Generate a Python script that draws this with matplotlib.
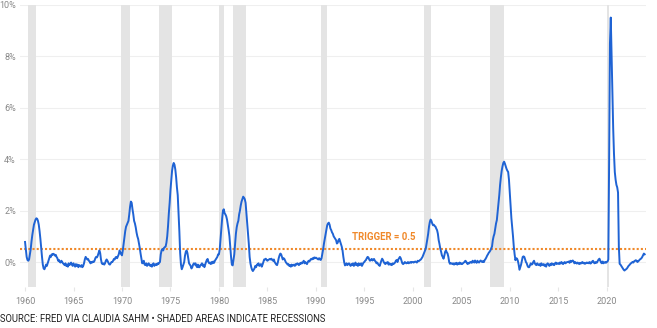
import matplotlib
matplotlib.use("Agg")
import matplotlib.pyplot as plt
import numpy as np

plt.rcParams['font.family'] = ['Roboto', 'DejaVu Sans']

# Sahm rule indicator, monthly values (percentage points), Jan 1960 - Dec 2023
start_year = 1960
sahm = [
    # 1960
    0.78, 0.5, 0.2, 0.08, 0.05, 0.1, 0.3, 0.5, 0.8, 1.05, 1.25, 1.45,
    # 1961
    1.55, 1.65, 1.7, 1.68, 1.6, 1.45, 1.2, 0.9, 0.55, 0.2, -0.1, -0.25,
    # 1962
    -0.28, -0.2, -0.1, -0.15, -0.05, 0.05, 0.15, 0.25, 0.2, 0.3, 0.28, 0.32,
    # 1963
    0.3, 0.25, 0.28, 0.2, 0.15, 0.05, 0.08, 0.0, -0.02, 0.05, 0.0, -0.05,
    # 1964
    -0.08, -0.12, -0.05, -0.15, -0.1, -0.18, -0.05, -0.12, -0.08, -0.02, -0.1, -0.15,
    # 1965
    -0.05, -0.12, -0.18, -0.08, -0.15, -0.1, -0.2, -0.12, -0.15, -0.18, -0.12, -0.2,
    # 1966
    -0.15, -0.05, 0.1, 0.2, 0.15, 0.1, 0.12, 0.05, 0.02, -0.05, 0.0, -0.02,
    # 1967
    0.02, 0.0, 0.05, 0.15, 0.2, 0.18, 0.25, 0.35, 0.45, 0.35, 0.1, -0.05,
    # 1968
    -0.08, -0.05, -0.1, -0.05, 0.05, 0.1, 0.05, -0.02, -0.08, -0.1, -0.05, 0.0,
    # 1969
    0.0, 0.05, 0.12, 0.1, 0.18, 0.2, 0.15, 0.22, 0.3, 0.45, 0.38, 0.3,
    # 1970
    0.26, 0.45, 0.7, 0.95, 1.2, 1.37, 1.45, 1.52, 1.6, 1.85, 2.15, 2.35,
    # 1971
    2.3, 2.05, 1.85, 1.6, 1.5, 1.35, 1.15, 1.0, 0.9, 0.72, 0.55, 0.33,
    # 1972
    0.15, -0.05, -0.02, 0.05, -0.1, -0.12, -0.05, -0.15, -0.1, -0.05, -0.12, -0.15,
    # 1973
    -0.1, -0.18, -0.1, -0.05, -0.15, -0.1, -0.08, -0.12, -0.05, -0.08, -0.03, 0.0,
    # 1974
    0.3, 0.45, 0.5, 0.45, 0.55, 0.58, 0.6, 0.75, 1.0, 1.4, 1.9, 2.3,
    # 1975
    2.8, 3.2, 3.55, 3.75, 3.85, 3.78, 3.6, 3.3, 2.9, 2.6, 1.9, 1.2,
    # 1976
    0.35, -0.1, -0.28, -0.2, -0.1, 0.0, 0.25, 0.4, 0.45, 0.35, 0.15, -0.05,
    # 1977
    -0.1, -0.15, -0.25, -0.2, -0.1, -0.05, -0.1, -0.05, -0.15, -0.2, -0.1, -0.2,
    # 1978
    -0.2, -0.12, -0.1, -0.05, -0.15, -0.1, -0.2, -0.1, 0.0, 0.08, 0.12, 0.0,
    # 1979
    -0.05, -0.02, -0.08, 0.0, -0.05, 0.02, -0.03, 0.05, 0.1, 0.15, 0.2, 0.3,
    # 1980
    0.3, 0.5, 0.9, 1.3, 1.7, 2.0, 2.05, 1.9, 1.85, 1.78, 1.65, 1.45,
    # 1981
    1.24, 1.0, 0.6, 0.2, -0.1, -0.13, 0.1, 0.3, 0.7, 1.1, 1.35, 1.5,
    # 1982
    1.6, 1.85, 2.0, 2.2, 2.35, 2.45, 2.54, 2.5, 2.44, 2.3, 1.9, 1.5,
    # 1983
    1.1, 0.7, 0.2, -0.05, -0.2, -0.3, -0.35, -0.3, -0.25, -0.15, -0.2, -0.1,
    # 1984
    -0.1, -0.05, -0.15, -0.12, -0.08, -0.18, -0.1, 0.0, 0.1, 0.1, 0.13, 0.08,
    # 1985
    0.05, 0.08, 0.1, 0.12, 0.1, 0.13, 0.08, 0.05, 0.1, 0.0, -0.05, -0.1,
    # 1986
    -0.12, 0.0, 0.15, 0.26, 0.33, 0.3, 0.2, 0.1, 0.15, 0.12, 0.05, -0.02,
    # 1987
    -0.05, -0.1, -0.08, -0.15, -0.12, -0.18, -0.1, -0.15, -0.12, -0.1, -0.15, -0.08,
    # 1988
    -0.1, -0.05, -0.08, -0.12, -0.05, -0.08, -0.02, -0.05, 0.0, 0.05, -0.05, 0.0,
    # 1989
    -0.05, -0.08, 0.0, 0.05, 0.02, 0.08, 0.12, 0.1, 0.15, 0.12, 0.18, 0.15,
    # 1990
    0.17, 0.15, 0.12, 0.1, 0.15, 0.1, 0.08, 0.15, 0.33, 0.5, 0.72, 0.9,
    # 1991
    1.1, 1.25, 1.43, 1.5, 1.53, 1.45, 1.3, 1.24, 1.15, 1.1, 1.0, 0.95,
    # 1992
    0.9, 0.85, 0.72, 0.75, 0.85, 0.9, 0.8, 0.7, 0.6, 0.45, 0.2, 0.0,
    # 1993
    -0.13, -0.1, -0.05, -0.12, -0.08, -0.05, -0.1, -0.15, -0.08, -0.12, -0.05, -0.15,
    # 1994
    -0.1, -0.02, -0.12, -0.08, -0.15, -0.05, -0.12, -0.1, -0.05, -0.15, -0.08, -0.02,
    # 1995
    0.0, 0.05, 0.08, 0.15, 0.2, 0.18, 0.1, 0.05, 0.08, 0.12, 0.06, 0.1,
    # 1996
    0.12, 0.05, 0.02, -0.05, -0.02, -0.08, -0.12, -0.15, -0.05, 0.05, 0.13, 0.08,
    # 1997
    0.0, -0.05, -0.08, -0.02, -0.05, 0.0, -0.1, -0.05, -0.1, -0.08, -0.12, -0.05,
    # 1998
    -0.08, -0.05, -0.02, 0.05, 0.08, 0.0, 0.1, 0.15, 0.2, 0.15, 0.05, -0.05,
    # 1999
    -0.08, -0.05, 0.0, -0.02, -0.05, -0.03, 0.0, -0.05, -0.02, 0.0, -0.03, 0.0,
    # 2000
    0.0, -0.02, 0.0, 0.02, 0.0, -0.02, 0.05, 0.03, 0.05, 0.08, 0.1, 0.15,
    # 2001
    0.2, 0.28, 0.35, 0.45, 0.52, 0.7, 0.9, 1.1, 1.37, 1.55, 1.65, 1.6,
    # 2002
    1.5, 1.43, 1.45, 1.4, 1.38, 1.3, 1.24, 1.1, 0.85, 0.7, 0.52, 0.4,
    # 2003
    0.26, 0.2, 0.13, 0.25, 0.4, 0.45, 0.38, 0.33, 0.2, 0.0, -0.07, -0.05,
    # 2004
    -0.05, -0.08, -0.05, -0.1, -0.05, -0.08, -0.03, -0.1, -0.05, -0.08, -0.02, -0.07,
    # 2005
    -0.05, -0.08, -0.05, -0.02, 0.0, 0.05, 0.02, -0.05, -0.08, -0.03, -0.05, 0.0,
    # 2006
    0.0, -0.03, 0.05, 0.02, -0.02, 0.06, 0.0, -0.03, 0.05, 0.0, -0.02, 0.03,
    # 2007
    0.06, 0.02, 0.0, 0.04, 0.0, 0.08, 0.12, 0.18, 0.25, 0.3, 0.36, 0.4,
    # 2008
    0.45, 0.52, 0.6, 0.85, 1.0, 1.1, 1.3, 1.5, 1.63, 1.95, 2.28, 2.6,
    # 2009
    3.0, 3.3, 3.55, 3.72, 3.85, 3.9, 3.82, 3.72, 3.62, 3.55, 3.5, 3.2,
    # 2010
    2.67, 2.2, 1.7, 1.37, 1.0, 0.59, 0.3, 0.07, 0.15, 0.13, 0.05, -0.1,
    # 2011
    -0.3, -0.2, -0.1, 0.05, 0.2, 0.22, 0.2, 0.1, 0.0, -0.05, -0.15, -0.2,
    # 2012
    -0.2, -0.12, -0.05, -0.1, -0.08, 0.0, 0.05, -0.05, -0.1, -0.12, -0.05, -0.1,
    # 2013
    -0.12, -0.08, -0.15, -0.05, -0.1, -0.12, -0.08, -0.15, -0.1, -0.18, -0.08, -0.05,
    # 2014
    -0.1, -0.15, -0.08, -0.12, -0.05, -0.1, -0.08, -0.12, -0.05, -0.02, -0.08, -0.05,
    # 2015
    -0.05, -0.08, -0.02, -0.06, 0.0, -0.05, -0.08, -0.03, 0.0, -0.05, -0.02, 0.0,
    # 2016
    0.0, 0.02, -0.03, 0.05, 0.0, 0.04, 0.06, 0.02, -0.05, 0.0, -0.03, -0.06,
    # 2017
    -0.02, -0.05, -0.08, -0.03, -0.06, -0.02, 0.0, -0.05, -0.03, -0.07, -0.05, -0.02,
    # 2018
    -0.04, -0.02, -0.05, 0.0, -0.06, -0.03, 0.02, 0.05, -0.02, -0.05, 0.0, -0.03,
    # 2019
    -0.02, 0.05, 0.1, 0.13, 0.05, -0.02, -0.05, 0.02, -0.05, -0.02, 0.0, -0.03,
    # 2020
    0.0, 0.02, 0.1, 4.0, 8.5, 9.5, 8.0, 6.5, 5.2, 4.2, 3.5, 3.2,
    # 2021
    3.0, 2.9, 2.7, 0.6, -0.07, -0.1, -0.15, -0.2, -0.25, -0.3, -0.33, -0.3,
    # 2022
    -0.28, -0.25, -0.2, -0.15, -0.12, -0.08, -0.05, -0.02, 0.0, -0.02, 0.03, 0.05,
    # 2023
    0.07, 0.05, 0.0, 0.03, 0.06, 0.1, 0.12, 0.15, 0.2, 0.27, 0.33, 0.3,
]

# NBER recessions (start, end) in decimal years
rec_start = [1960.33, 1969.92, 1973.83, 1980.0, 1981.5, 1990.5, 2001.17, 2007.92, 2020.08]
rec_end   = [1961.08, 1970.83, 1975.17, 1980.5, 1982.83, 1991.17, 2001.83, 2009.42, 2020.25]

trigger = 0.5
trigger_label = "TRIGGER = 0.5"
x_ticks = [1960, 1965, 1970, 1975, 1980, 1985, 1990, 1995, 2000, 2005, 2010, 2015, 2020]
y_ticks = [0, 2, 4, 6, 8, 10]
source = "SOURCE: FRED VIA CLAUDIA SAHM \u2022 SHADED AREAS INDICATE RECESSIONS"

dates = start_year + np.arange(len(sahm)) / 12.0

W, H = 657, 328
fig = plt.figure(figsize=(W / 100, H / 100), dpi=100)
ax = fig.add_axes([20 / W, 1 - 287 / H, (645.5 - 20) / W, (287 - 4.7) / H])

for s, e in zip(rec_start, rec_end):
    ax.axvspan(s, e, color="#e4e4e4", lw=0, zorder=1)

for yv in y_ticks:
    ax.axhline(yv, color="#efefef", lw=0.8, zorder=0)

ax.axhline(trigger, color="#f0892a", lw=1.5, linestyle=(0, (1, 1)), zorder=2)
ax.plot(dates, sahm, color="#1f63d4", lw=1.4, zorder=3, solid_joinstyle="round")

ax.text(2000.3, trigger + 0.28, trigger_label, color="#f0892a", fontsize=6.9,
        fontweight="bold", ha="right", va="bottom", zorder=4)

ax.set_xlim(1959.48, 2024.0)
ax.set_ylim(-0.97, 10)
ax.set_xticks(x_ticks)
ax.set_xticklabels([str(t) for t in x_ticks])
ax.set_yticks(y_ticks)
ax.set_yticklabels([f"{t}%" for t in y_ticks])
ax.tick_params(axis="x", length=3, color="#e6e6e6", labelsize=6.5, labelcolor="#888888", pad=4)
ax.tick_params(axis="y", length=0, labelsize=6.5, labelcolor="#888888", pad=3)
for sp in ax.spines.values():
    sp.set_visible(False)

fig.text(0.0, 1 - 319 / H, source, fontsize=6.85, color="#222222", ha="left", va="center")

fig.savefig("out.png", dpi=100)
